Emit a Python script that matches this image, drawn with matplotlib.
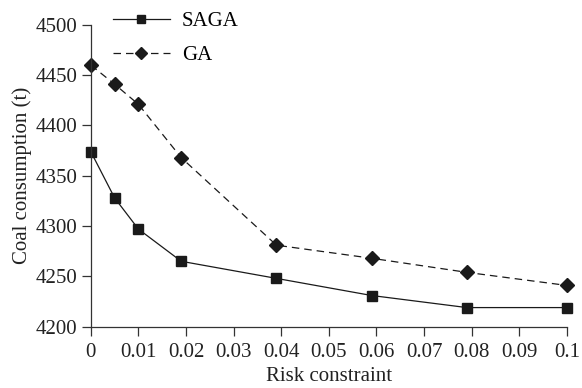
import matplotlib.pyplot as plt

plt.rcParams['font.family'] = ['Liberation Serif', 'DejaVu Serif']

risk = [0, 0.005, 0.01, 0.019, 0.039, 0.059, 0.079, 0.1]
saga = [4374, 4328, 4297, 4265, 4248, 4231, 4219, 4219]
ga = [4460, 4441, 4421, 4368, 4281, 4268, 4254, 4241]

xticks = [0, 0.01, 0.02, 0.03, 0.04, 0.05, 0.06, 0.07, 0.08, 0.09, 0.1]
xlabels = ['0', '0.01', '0.02', '0.03', '0.04', '0.05', '0.06', '0.07', '0.08', '0.09', '0.1']
yticks = [4200, 4250, 4300, 4350, 4400, 4450, 4500]

fig = plt.figure(figsize=(5.82, 3.88), dpi=100)
ax = fig.add_axes([0.156, 0.158, 0.818, 0.778])

col = '#1a1a1a'
ax.plot(risk, saga, '-', color=col, lw=0.9, marker='s', ms=7.5, label='SAGA', clip_on=False)
ax.plot(risk, ga, '--', color=col, lw=0.9, marker='D', ms=7.5, dashes=(6, 4), label='GA', clip_on=False)

ax.set_xlim(0, 0.1)
ax.set_ylim(4200, 4500)
ax.set_xticks(xticks)
ax.set_xticklabels(xlabels)
ax.set_yticks(yticks)
ax.spines['top'].set_visible(False)
ax.spines['right'].set_visible(False)
for s in ['left', 'bottom']:
    ax.spines[s].set_color('#333333')
    ax.spines[s].set_linewidth(0.9)
ax.tick_params(direction='out', length=6.5, width=0.9, labelsize=15, colors='#333333', labelcolor='#222222', pad=3)
ax.tick_params(axis='x', pad=5)
ax.set_xlabel('Risk constraint', fontsize=15, color='#222222', labelpad=4)
ax.set_ylabel('Coal consumption (t)', fontsize=15, color='#222222', labelpad=3)

fig.legend(loc='upper left', bbox_to_anchor=(0.175, 1.0), frameon=False, fontsize=15,
           handlelength=2.7, labelspacing=0.7, borderpad=0.05, handletextpad=0.6, markerscale=0.8)

fig.savefig('out.png', dpi=100)
